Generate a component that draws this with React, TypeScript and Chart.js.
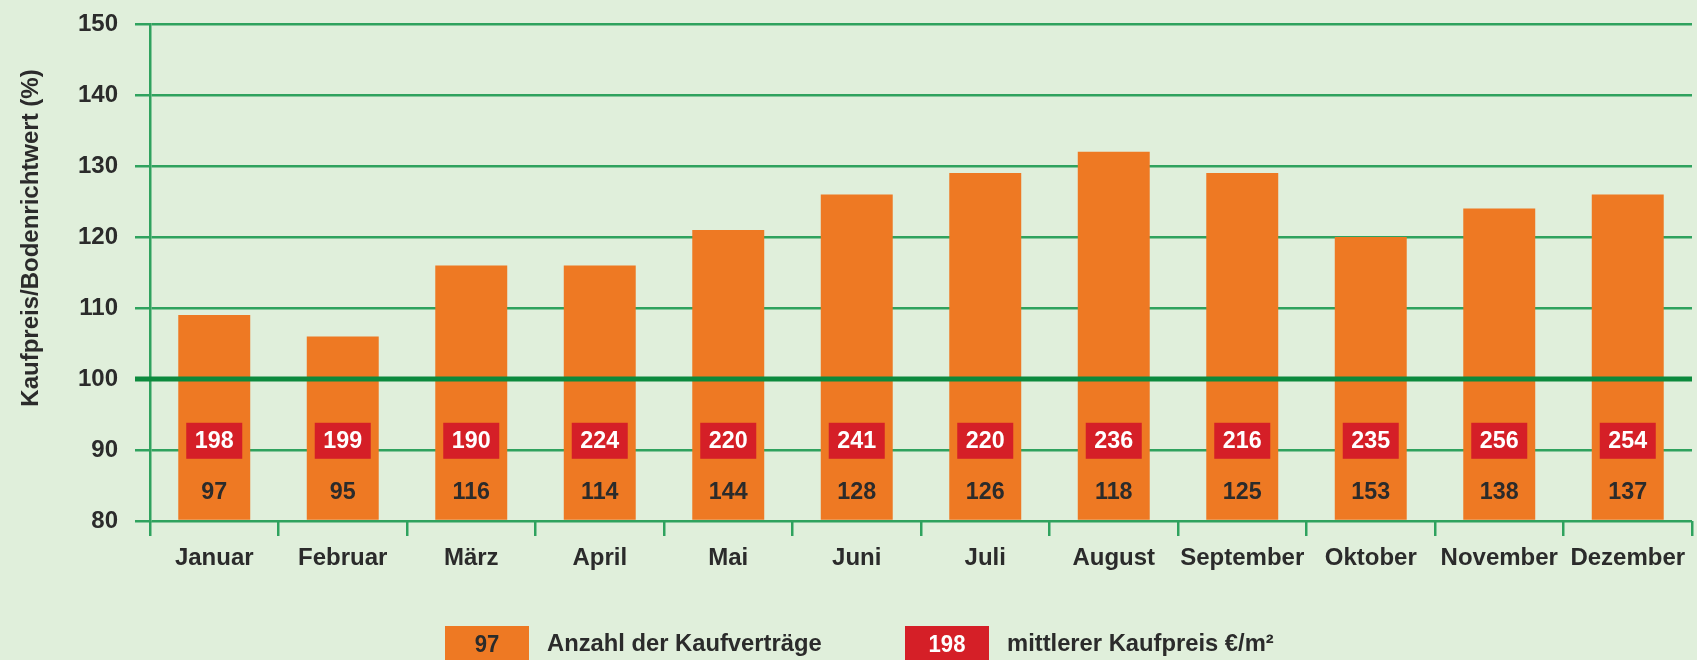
import { useEffect, useRef } from "react";
import { Chart, registerables } from "chart.js";

Chart.register(...registerables);

const months = ["Januar", "Februar", "März", "April", "Mai", "Juni", "Juli", "August", "September", "Oktober", "November", "Dezember"];
const priceRatio = [109, 106, 116, 116, 121, 126, 129, 132, 129, 120, 124, 126];
const contracts = [97, 95, 116, 114, 144, 128, 126, 118, 125, 153, 138, 137];
const meanPrice = [198, 199, 190, 224, 220, 241, 220, 236, 216, 235, 256, 254];
const yMin = 80;
const yMax = 150;
const yStep = 10;
const referenceValue = 100;
const priceLabelValue = 91.3;
const countLabelValue = 84.2;
const yTitle = "Kaufpreis/Bodenrichtwert (%)";
const legendLabels = ["Anzahl der Kaufverträge", "mittlerer Kaufpreis €/m²"];

const FONT = "'Liberation Sans', Arial, sans-serif";
const BG = "#E0EFDB";
const ORANGE = "#EE7923";
const RED = "#D51F27";
const GRID = "#2FA25E";
const REF = "#0C8A3D";
const TEXT = "#2B2B2B";

function condensedText(ctx: any, text: string, x: number, y: number, sx: number, align: string) {
  ctx.save();
  ctx.translate(x, y);
  ctx.scale(sx, 1);
  ctx.textAlign = align;
  ctx.fillText(text, 0, 0);
  ctx.restore();
}

const overlay = {
  id: "overlay",
  afterDatasetsDraw(chart: any) {
    const { ctx, chartArea, scales } = chart;
    const y = scales.y;
    ctx.save();
    // reference line at 100
    const ry = y.getPixelForValue(referenceValue);
    ctx.strokeStyle = REF;
    ctx.lineWidth = 5;
    ctx.beginPath();
    ctx.moveTo(chartArea.left - 15, ry);
    ctx.lineTo(chartArea.right, ry);
    ctx.stroke();

    ctx.textBaseline = "middle";
    ctx.font = `bold 24px ${FONT}`;
    const meta = chart.getDatasetMeta(0);
    meta.data.forEach((bar: any, i: number) => {
      const bx = bar.x;
      const py = y.getPixelForValue(priceLabelValue);
      ctx.fillStyle = RED;
      ctx.fillRect(bx - 28, py - 18, 56, 36);
      ctx.fillStyle = "#FFFFFF";
      condensedText(ctx, String(meanPrice[i]), bx, py + 1, 0.97, "center");
      ctx.fillStyle = TEXT;
      condensedText(ctx, String(contracts[i]), bx, y.getPixelForValue(countLabelValue) + 1, 0.97, "center");
    });

    // y title
    ctx.save();
    ctx.translate(31, 238);
    ctx.rotate(-Math.PI / 2);
    ctx.font = `bold 24px ${FONT}`;
    ctx.fillStyle = TEXT;
    ctx.textAlign = "center";
    ctx.fillText(yTitle, 0, 0);
    ctx.restore();

    // legend
    const ly = 626;
    const items = [
      { x: 445, color: ORANGE, num: String(contracts[0]), numColor: TEXT, label: legendLabels[0] },
      { x: 905, color: RED, num: String(meanPrice[0]), numColor: "#FFFFFF", label: legendLabels[1] },
    ];
    items.forEach((it) => {
      ctx.fillStyle = it.color;
      ctx.fillRect(it.x, ly, 84, 40);
      ctx.fillStyle = it.numColor;
      ctx.font = `bold 24px ${FONT}`;
      condensedText(ctx, it.num, it.x + 42, 645, 0.92, "center");
      ctx.fillStyle = TEXT;
      condensedText(ctx, it.label, it.x + 102, 644, 0.99, "left");
    });
    ctx.restore();
  },
};

export default function App() {
  const ref = useRef<HTMLCanvasElement>(null);
  useEffect(() => {
    if (!ref.current) return;
    const chart = new Chart(ref.current, {
      type: "bar",
      data: {
        labels: months,
        datasets: [
          {
            data: priceRatio,
            backgroundColor: ORANGE,
            borderWidth: 0,
            categoryPercentage: 0.56,
            barPercentage: 1,
            base: yMin,
          },
        ],
      },
      options: {
        responsive: false,
        animation: false,
        devicePixelRatio: 1,
        layout: { padding: { left: 0, right: 5, top: 24, bottom: 59 } },
        plugins: { legend: { display: false }, tooltip: { enabled: false } },
        scales: {
          x: {
            offset: true,
            grid: { offset: true, drawOnChartArea: false, tickLength: 15, color: GRID, lineWidth: 2.5 },
            border: { display: false },
            ticks: { font: { family: FONT, size: 24, weight: "bold" }, color: TEXT, padding: 8, maxRotation: 0, autoSkip: false },
            afterFit(s: any) {
              s.height = 80;
              s.paddingLeft = 0;
              s.paddingRight = 0;
            },
          },
          y: {
            min: yMin,
            max: yMax,
            ticks: { stepSize: yStep, font: { family: FONT, size: 24, weight: "bold" }, color: TEXT, padding: 17 },
            grid: { color: GRID, lineWidth: 2.5, tickLength: 15 },
            border: { display: true, color: GRID, width: 2.5 },
            afterFit(s: any) {
              s.width = 150;
              s.paddingTop = 0;
              s.paddingBottom = 0;
            },
          },
        },
      },
      plugins: [overlay],
    });
    return () => chart.destroy();
  }, []);
  return (
    <div style={{ position: "fixed", left: 0, top: 0, width: 1697, height: 660, background: BG }}>
      <canvas ref={ref} width={1697} height={660} style={{ display: "block" }} />
    </div>
  );
}
